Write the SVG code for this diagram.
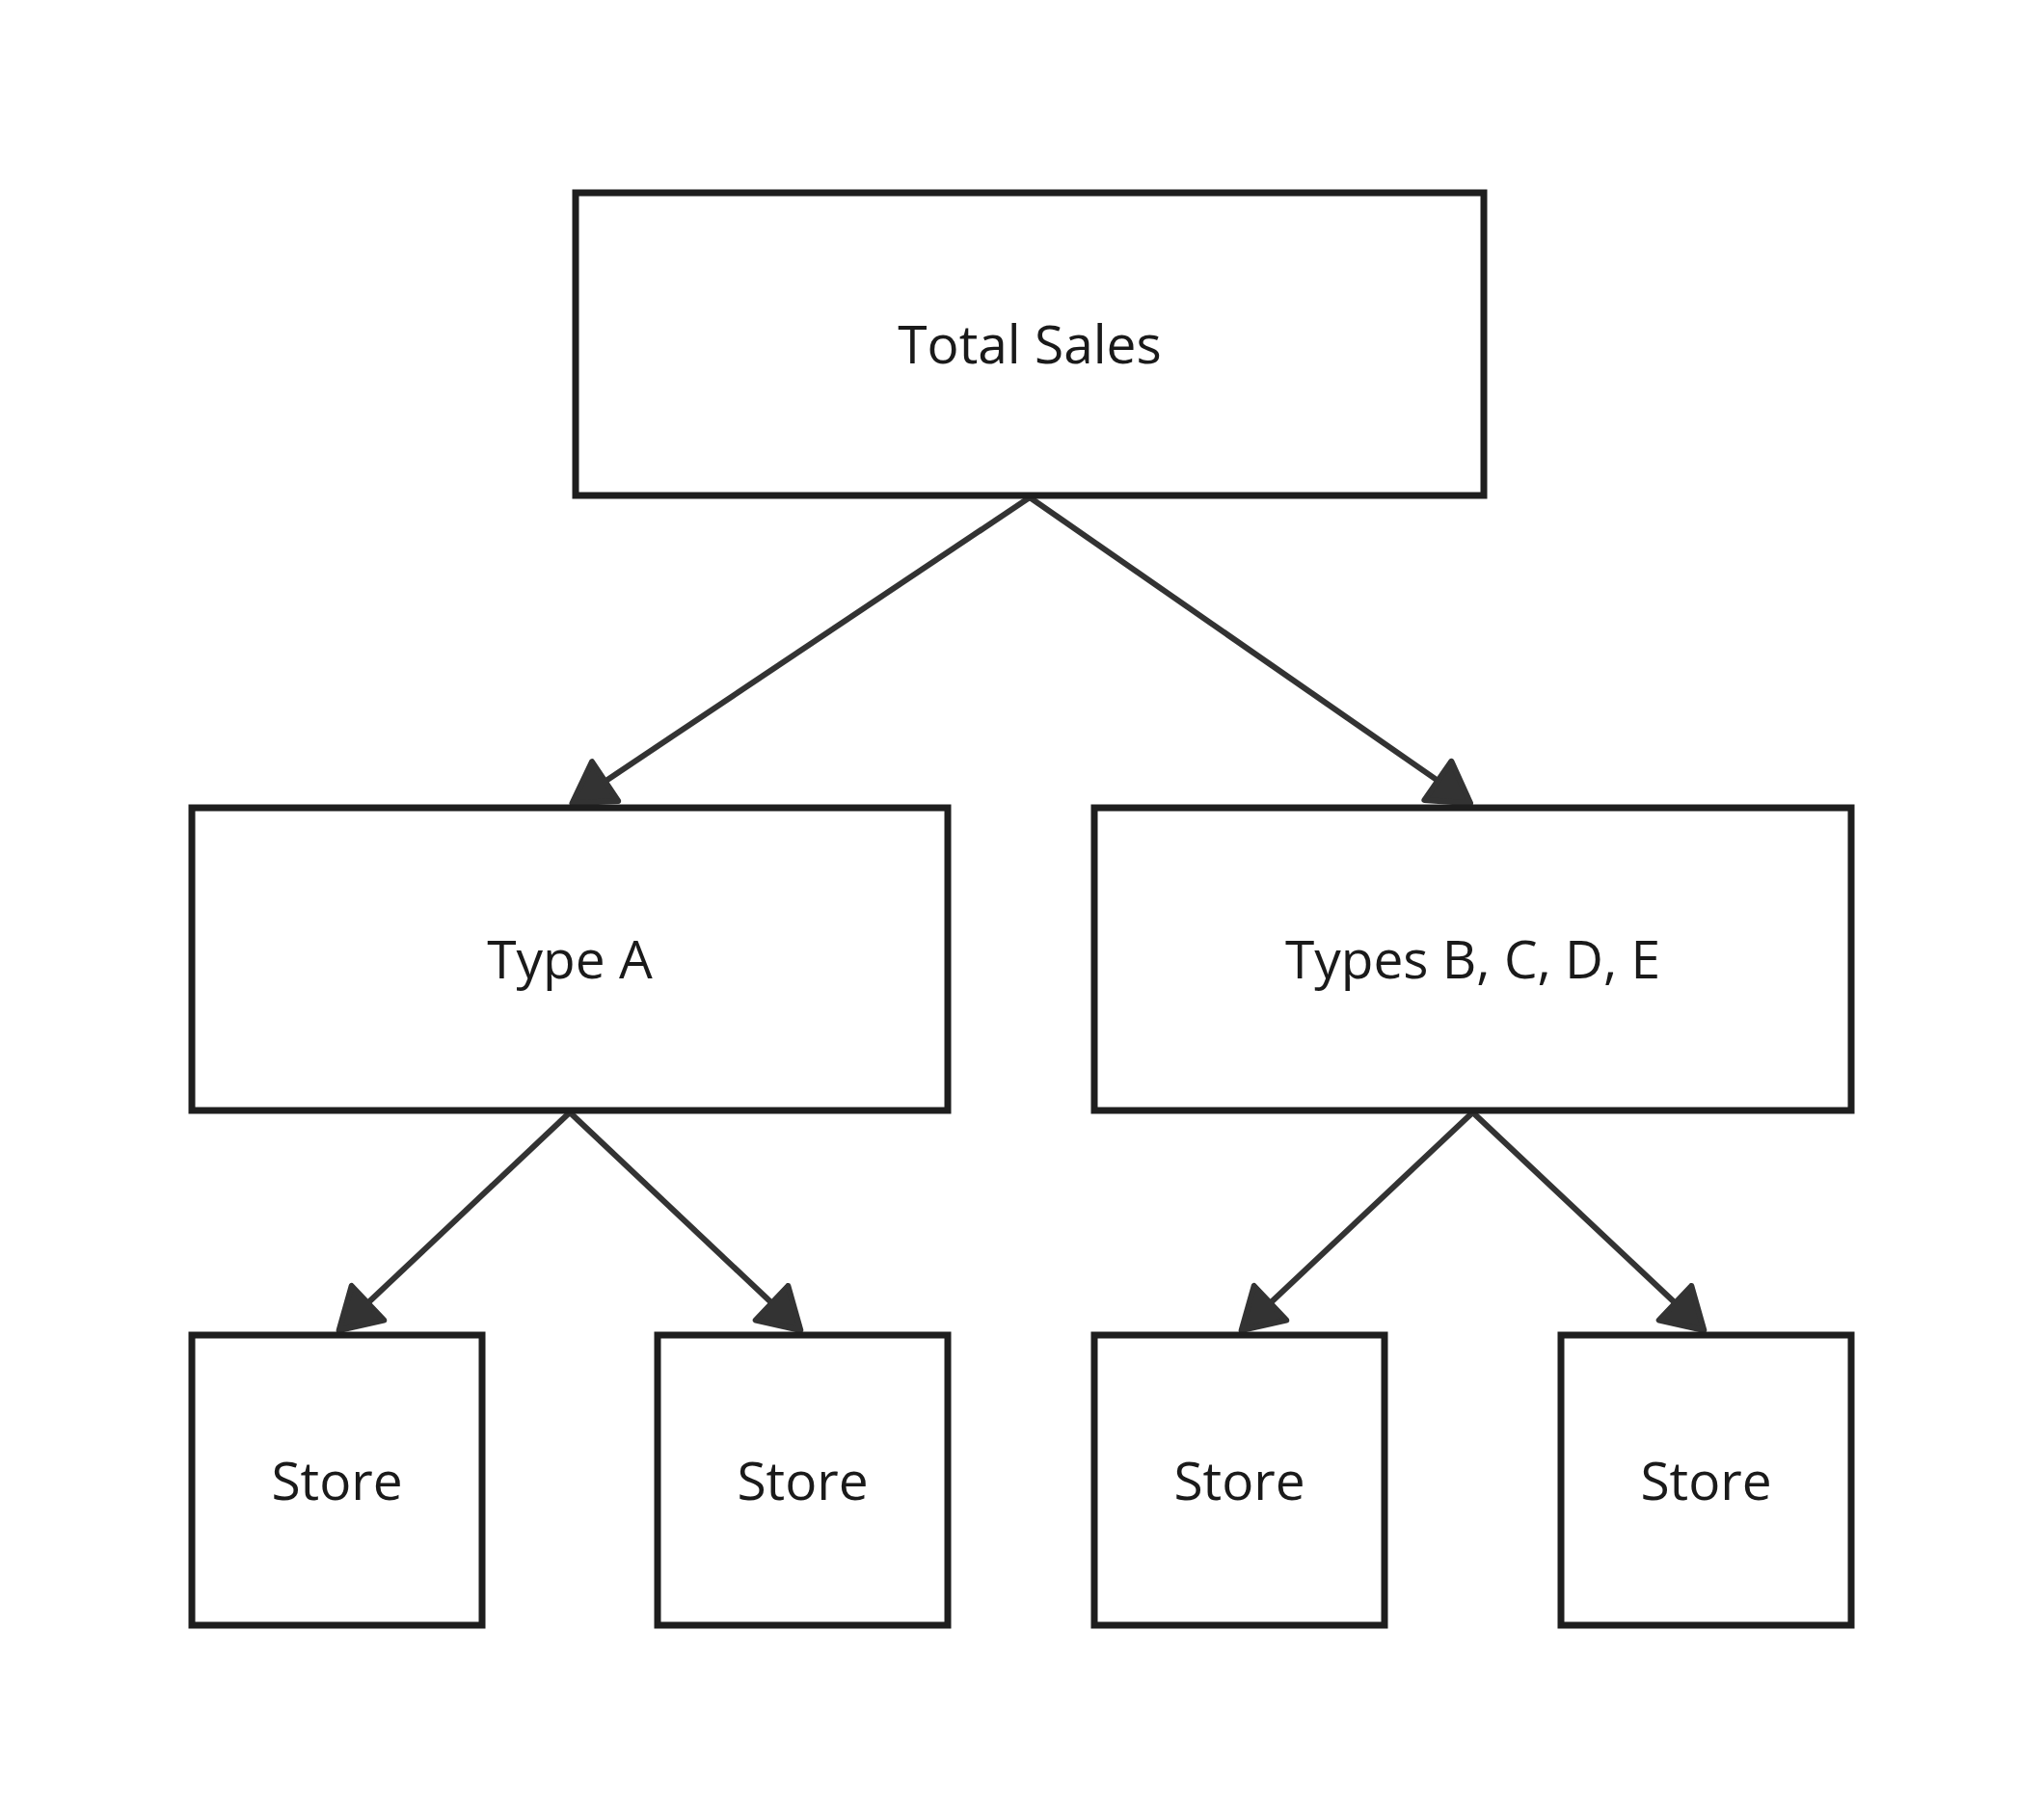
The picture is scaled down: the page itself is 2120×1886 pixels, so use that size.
<svg xmlns="http://www.w3.org/2000/svg" width="2120" height="1886" viewBox="0 0 2120 1886">
  <style>
    .box { fill: #ffffff; stroke: #1e1e1e; stroke-width: 7; }
    .lbl { font-family: "Open Sans", "Noto Sans", "Liberation Sans", sans-serif; font-size: 55px; fill: #1a1a1a; text-anchor: middle; }
    .edge { fill: none; stroke: #333333; stroke-width: 6; marker-end: url(#arrow); }
  </style>
  <defs>
    <marker id="arrow" markerUnits="userSpaceOnUse" orient="auto" refX="-17" refY="0" markerWidth="80" markerHeight="80" overflow="visible">
      <path d="M0,0 L-41,-24.5 L-41,24.5 Z" fill="#333333" stroke="#333333" stroke-width="6" stroke-linejoin="round"/>
    </marker>
  </defs>
  <rect width="2120" height="1886" fill="#ffffff"/>

  <g id="connectors">
    <line class="edge" x1="1068" y1="516" x2="607.6" y2="823.9"/>
    <line class="edge" x1="1068" y1="516" x2="1511.1" y2="823.6"/>
    <line class="edge" x1="591" y1="1154" x2="364.0" y2="1368.3"/>
    <line class="edge" x1="591" y1="1154" x2="818.0" y2="1368.3"/>
    <line class="edge" x1="1527.5" y1="1154" x2="1300.0" y2="1368.3"/>
    <line class="edge" x1="1527.5" y1="1154" x2="1755.0" y2="1368.3"/>
  </g>

  <g id="total-sales">
    <rect class="box" x="597" y="200" width="942" height="314"/>
    <text class="lbl" x="1068" y="377">Total Sales</text>
  </g>
  <g id="type-a">
    <rect class="box" x="199" y="838" width="784" height="314"/>
    <text class="lbl" x="591" y="1015">Type A</text>
  </g>
  <g id="types-bcde">
    <rect class="box" x="1135" y="838" width="785" height="314"/>
    <text class="lbl" x="1527.5" y="1015">Types B, C, D, E</text>
  </g>
  <g id="store-1">
    <rect class="box" x="199" y="1385" width="301" height="301"/>
    <text class="lbl" x="349.5" y="1556">Store</text>
  </g>
  <g id="store-2">
    <rect class="box" x="682" y="1385" width="301" height="301"/>
    <text class="lbl" x="832.5" y="1556">Store</text>
  </g>
  <g id="store-3">
    <rect class="box" x="1135" y="1385" width="301" height="301"/>
    <text class="lbl" x="1285.5" y="1556">Store</text>
  </g>
  <g id="store-4">
    <rect class="box" x="1619" y="1385" width="301" height="301"/>
    <text class="lbl" x="1769.5" y="1556">Store</text>
  </g>
</svg>
